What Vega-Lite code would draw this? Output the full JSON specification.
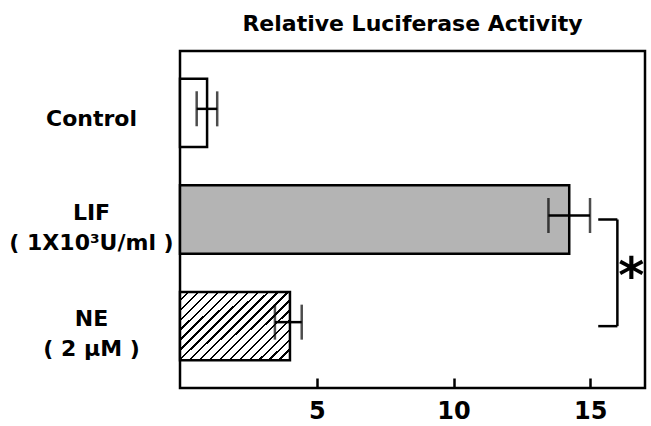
{
  "$schema": "https://vega.github.io/schema/vega-lite/v6.json",
  "autosize": "none",
  "width": 465,
  "height": 337,
  "padding": {"left": 180, "top": 51, "right": 6, "bottom": 38},
  "background": "white",
  "config": {
    "view": {"stroke": "black", "strokeWidth": 2.5},
    "font": "DejaVu Sans"
  },
  "title": {
    "text": "Relative Luciferase Activity",
    "font": "DejaVu Sans",
    "fontSize": 22,
    "fontWeight": "bold",
    "color": "black",
    "baseline": "alphabetic",
    "offset": 21,
    "dy": 23
  },
  "datasets": {
    "bars": [
      {"key": "Control", "mean": 0.99, "lo": 0.61, "hi": 1.36},
      {"key": "LIF", "mean": 14.23, "lo": 13.47, "hi": 14.99},
      {"key": "NE", "mean": 4.02, "lo": 3.47, "hi": 4.45}
    ],
    "bracketH": [
      {"key": "LIF", "x1": 15.29, "x2": 15.99},
      {"key": "NE", "x1": 15.29, "x2": 15.99}
    ],
    "bracketV": [
      {"from": "LIF", "to": "NE", "x": 15.99}
    ],
    "star": [
      {"key": "LIF", "x": 16.5, "t": "*"}
    ]
  },
  "encoding": {
    "y": {
      "field": "key",
      "type": "nominal",
      "title": null,
      "scale": {"domain": ["Control", "LIF", "NE"], "paddingInner": 0.36, "paddingOuter": 0.26},
      "axis": {
        "ticks": false,
        "domain": false,
        "labelAlign": "center",
        "labelBaseline": "middle",
        "labelPadding": 89,
        "labelOffset": {"condition": {"test": "datum.value == 'Control'", "value": 6}, "value": -7},
        "labelFont": "DejaVu Sans",
        "labelFontWeight": "bold",
        "labelFontSize": 22,
        "labelLineHeight": 30,
        "labelColor": "black",
        "labelExpr": "datum.value == 'LIF' ? ['LIF', '( 1X10³U/ml )'] : datum.value == 'NE' ? ['NE', '( 2 µM )'] : datum.value"
      }
    }
  },
  "layer": [
    {
      "data": {"name": "bars"},
      "transform": [{"filter": "datum.key == 'Control'"}],
      "mark": {"type": "bar", "fill": "white", "stroke": "black", "strokeWidth": 2.5},
      "encoding": {
        "x": {
          "field": "mean",
          "type": "quantitative",
          "title": null,
          "scale": {"domain": [0, 17], "nice": false, "zero": true},
          "axis": {
            "values": [5, 10, 15],
            "grid": false,
            "domain": false,
            "offset": -10,
            "tickSize": 10,
            "tickWidth": 2.5,
            "tickColor": "black",
            "labelFont": "DejaVu Sans",
            "labelFontWeight": "bold",
            "labelFontSize": 24,
            "labelColor": "black",
            "labelPadding": 11
          }
        }
      }
    },
    {
      "data": {"name": "bars"},
      "transform": [{"filter": "datum.key == 'LIF'"}],
      "mark": {"type": "bar", "fill": "#b4b4b4", "stroke": "black", "strokeWidth": 2.5},
      "encoding": {"x": {"field": "mean", "type": "quantitative"}}
    },
    {
      "data": {"name": "bars"},
      "transform": [{"filter": "datum.key == 'NE'"}],
      "mark": {
        "type": "bar",
        "stroke": "black",
        "strokeWidth": 2.5,
        "fill": {
          "gradient": "linear",
          "x1": 0, "y1": 0, "x2": 1.168, "y2": 0.733,
          "stops": [
            {"offset": 0, "color": "white"},
            {"offset": 0.0417, "color": "white"}, {"offset": 0.0417, "color": "black"}, {"offset": 0.0556, "color": "black"}, {"offset": 0.0556, "color": "white"},
            {"offset": 0.0972, "color": "white"}, {"offset": 0.0972, "color": "black"}, {"offset": 0.1111, "color": "black"}, {"offset": 0.1111, "color": "white"},
            {"offset": 0.1528, "color": "white"}, {"offset": 0.1528, "color": "black"}, {"offset": 0.1667, "color": "black"}, {"offset": 0.1667, "color": "white"},
            {"offset": 0.2083, "color": "white"}, {"offset": 0.2083, "color": "black"}, {"offset": 0.2222, "color": "black"}, {"offset": 0.2222, "color": "white"},
            {"offset": 0.2639, "color": "white"}, {"offset": 0.2639, "color": "black"}, {"offset": 0.2778, "color": "black"}, {"offset": 0.2778, "color": "white"},
            {"offset": 0.3194, "color": "white"}, {"offset": 0.3194, "color": "black"}, {"offset": 0.3333, "color": "black"}, {"offset": 0.3333, "color": "white"},
            {"offset": 0.375, "color": "white"}, {"offset": 0.375, "color": "black"}, {"offset": 0.3889, "color": "black"}, {"offset": 0.3889, "color": "white"},
            {"offset": 0.4306, "color": "white"}, {"offset": 0.4306, "color": "black"}, {"offset": 0.4444, "color": "black"}, {"offset": 0.4444, "color": "white"},
            {"offset": 0.4861, "color": "white"}, {"offset": 0.4861, "color": "black"}, {"offset": 0.5, "color": "black"}, {"offset": 0.5, "color": "white"},
            {"offset": 0.5417, "color": "white"}, {"offset": 0.5417, "color": "black"}, {"offset": 0.5556, "color": "black"}, {"offset": 0.5556, "color": "white"},
            {"offset": 0.5972, "color": "white"}, {"offset": 0.5972, "color": "black"}, {"offset": 0.6111, "color": "black"}, {"offset": 0.6111, "color": "white"},
            {"offset": 0.6528, "color": "white"}, {"offset": 0.6528, "color": "black"}, {"offset": 0.6667, "color": "black"}, {"offset": 0.6667, "color": "white"},
            {"offset": 0.7083, "color": "white"}, {"offset": 0.7083, "color": "black"}, {"offset": 0.7222, "color": "black"}, {"offset": 0.7222, "color": "white"},
            {"offset": 0.7639, "color": "white"}, {"offset": 0.7639, "color": "black"}, {"offset": 0.7778, "color": "black"}, {"offset": 0.7778, "color": "white"},
            {"offset": 0.8194, "color": "white"}, {"offset": 0.8194, "color": "black"}, {"offset": 0.8333, "color": "black"}, {"offset": 0.8333, "color": "white"},
            {"offset": 0.875, "color": "white"}, {"offset": 0.875, "color": "black"}, {"offset": 0.8889, "color": "black"}, {"offset": 0.8889, "color": "white"},
            {"offset": 0.9306, "color": "white"}, {"offset": 0.9306, "color": "black"}, {"offset": 0.9444, "color": "black"}, {"offset": 0.9444, "color": "white"},
            {"offset": 0.9861, "color": "white"}, {"offset": 0.9861, "color": "black"}, {"offset": 1, "color": "black"}
          ]
        }
      },
      "encoding": {"x": {"field": "mean", "type": "quantitative"}}
    },
    {
      "data": {"name": "bars"},
      "mark": {"type": "rule", "color": "black", "strokeWidth": 2.5, "yOffset": -4},
      "encoding": {
        "x": {"field": "lo", "type": "quantitative"},
        "x2": {"field": "hi"}
      }
    },
    {
      "data": {"name": "bars"},
      "mark": {"type": "tick", "color": "black", "thickness": 2.5, "size": 35, "orient": "vertical", "yOffset": -4},
      "encoding": {"x": {"field": "lo", "type": "quantitative"}}
    },
    {
      "data": {"name": "bars"},
      "mark": {"type": "tick", "color": "black", "thickness": 2.5, "size": 35, "orient": "vertical", "yOffset": -4},
      "encoding": {"x": {"field": "hi", "type": "quantitative"}}
    },
    {
      "data": {"name": "bracketH"},
      "mark": {"type": "rule", "color": "black", "strokeWidth": 2.5},
      "encoding": {
        "x": {"field": "x1", "type": "quantitative"},
        "x2": {"field": "x2"}
      }
    },
    {
      "data": {"name": "bracketV"},
      "mark": {"type": "rule", "color": "black", "strokeWidth": 2.5},
      "encoding": {
        "x": {"field": "x", "type": "quantitative"},
        "y": {"field": "from", "type": "nominal"},
        "y2": {"field": "to"}
      }
    },
    {
      "data": {"name": "star"},
      "mark": {"type": "text", "font": "DejaVu Sans", "fontSize": 50, "fontWeight": "bold", "baseline": "middle", "align": "center", "color": "black", "yOffset": 58},
      "encoding": {
        "x": {"field": "x", "type": "quantitative"},
        "text": {"field": "t"}
      }
    }
  ]
}
